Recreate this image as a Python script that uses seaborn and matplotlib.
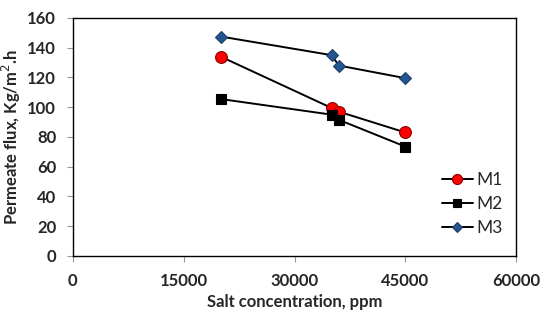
import matplotlib
matplotlib.use("Agg")
import matplotlib.pyplot as plt
import seaborn as sns
import pandas as pd

# salt concentration (ppm) and permeate flux (kg/m2.h) per membrane
conc = [20000, 35000, 36000, 45000]
m1 = [134, 99.5, 97, 83]
m2 = [105.5, 95, 91.5, 73.5]
m3 = [147.5, 135, 128, 119.5]

x_ticks = [0, 15000, 30000, 45000, 60000]
y_ticks = [0, 20, 40, 60, 80, 100, 120, 140, 160]

df = pd.DataFrame({
    "conc": conc * 3,
    "flux": m1 + m2 + m3,
    "membrane": ["M1"] * 4 + ["M2"] * 4 + ["M3"] * 4,
})

sns.set_style("white")
plt.rcParams['font.family'] = ['Lato', 'DejaVu Sans']

fig = plt.figure(figsize=(5.44, 3.2), dpi=100)
ax = fig.add_axes([0.134, 0.2, 0.815, 0.744])

styles = {
    "M1": dict(marker="o", markerfacecolor="#ff0000", markeredgecolor="#8b0000", markersize=8.5),
    "M2": dict(marker="s", markerfacecolor="black", markeredgecolor="black", markersize=7.5),
    "M3": dict(marker="D", markerfacecolor="#24558f", markeredgecolor="#1c3f6a", markersize=6.5),
}
for name, st in styles.items():
    sub = df[df["membrane"] == name]
    sns.lineplot(data=sub, x="conc", y="flux", ax=ax, color="black", linewidth=1.4,
                 label=name, markeredgewidth=0.8, **st)

ax.set_xlim(0, 60000)
ax.set_ylim(0, 160)
ax.set_xticks(x_ticks)
ax.set_yticks(y_ticks)
ax.tick_params(axis="both", labelsize=12, length=4, width=0.8, color="#999999", direction="out",
               left=True, bottom=True, pad=8)
for lab in ax.get_xticklabels() + ax.get_yticklabels():
    lab.set_fontweight("bold")
for s in ax.spines.values():
    s.set_color("black")
    s.set_linewidth(1.0)

ax.set_xlabel("Salt concentration, ppm", fontsize=12, fontweight="bold", labelpad=4)
ax.set_ylabel("Permeate flux, Kg/m$^2$.h", fontsize=12, fontweight="bold", labelpad=3)

ax.legend(loc="lower right", bbox_to_anchor=(1.005, 0.02), frameon=False, fontsize=12.5,
          handlelength=1.8, handletextpad=0.2, labelspacing=0.45, markerscale=0.85)

fig.savefig("out.png", dpi=100)
